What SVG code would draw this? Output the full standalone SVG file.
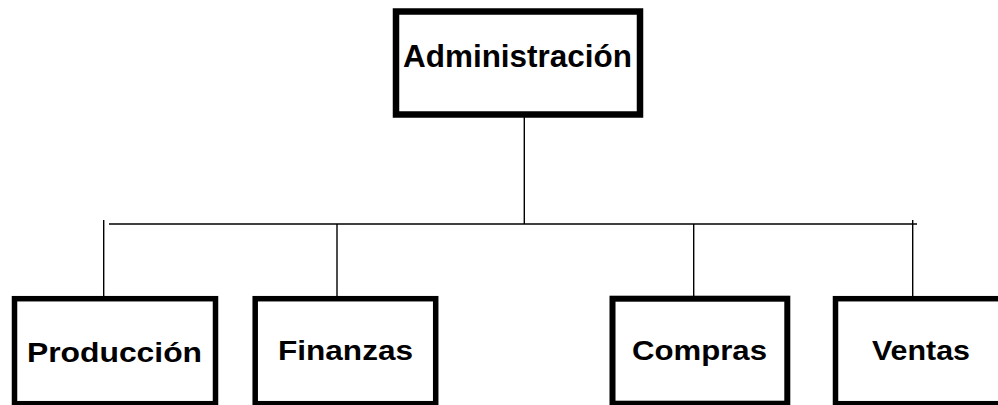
<svg xmlns="http://www.w3.org/2000/svg" width="998" height="405" viewBox="0 0 998 405">
<style>
.box{fill:#fff;stroke:#000}
.lbl{font-family:"Liberation Sans",Arial,sans-serif;font-weight:bold;fill:#000}
.ln{stroke:#000;stroke-width:1.4;fill:none}
</style>
<rect width="998" height="405" fill="#fff"/>
<g id="connectors">
<line class="ln" x1="524.3" y1="117" x2="524.3" y2="224"/>
<line class="ln" x1="109" y1="224" x2="917" y2="224" stroke="#333"/>
<line class="ln" x1="103.7" y1="220" x2="103.7" y2="297"/>
<line class="ln" x1="337" y1="224" x2="337" y2="297"/>
<line class="ln" x1="693.7" y1="224" x2="693.7" y2="297"/>
<line class="ln" x1="912.7" y1="220" x2="912.7" y2="297"/>
</g>
<g id="administracion">
<rect class="box" x="396" y="11.5" width="244" height="103" stroke-width="6.5"/>
<text class="lbl" x="403" y="67.3" font-size="31" textLength="229" lengthAdjust="spacingAndGlyphs">Administración</text>
</g>
<g id="produccion">
<rect class="box" x="14.5" y="298.7" width="201" height="105" stroke-width="5.5"/>
<text class="lbl" x="27" y="361.5" font-size="28" textLength="175" lengthAdjust="spacingAndGlyphs">Producción</text>
</g>
<g id="finanzas">
<rect class="box" x="255.2" y="298.7" width="180.5" height="105" stroke-width="5.5"/>
<text class="lbl" x="278" y="360" font-size="28" textLength="135" lengthAdjust="spacingAndGlyphs">Finanzas</text>
</g>
<g id="compras">
<rect class="box" x="612.5" y="298.7" width="174.8" height="105" stroke-width="6"/>
<text class="lbl" x="632" y="360" font-size="28" textLength="135" lengthAdjust="spacingAndGlyphs">Compras</text>
</g>
<g id="ventas">
<rect class="box" x="835.5" y="298.7" width="172" height="105" stroke-width="5.5"/>
<text class="lbl" x="872" y="360" font-size="28" textLength="98" lengthAdjust="spacingAndGlyphs">Ventas</text>
</g>
</svg>
